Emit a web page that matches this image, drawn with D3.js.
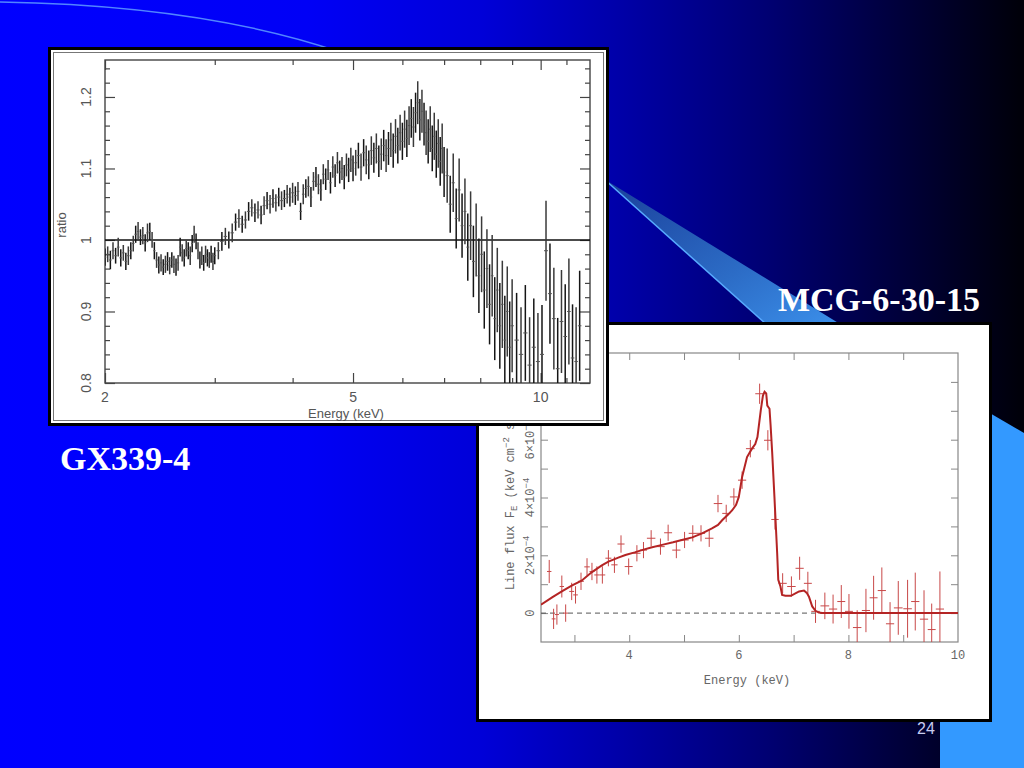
<!DOCTYPE html>
<html>
<head>
<meta charset="utf-8">
<script src="https://cdn.jsdelivr.net/npm/d3@7/dist/d3.min.js"></script>
<style>
  html, body { margin: 0; padding: 0; background: #000; }
  svg { display: block; }
</style>
</head>
<body>
<script>
// ---------------- DATA ----------------
// GX339-4 : ratio vs energy (keV)
const gxEnergy = [
  2.00,2.02,2.04,2.06,2.08,2.10,2.12,2.14,2.16,2.18,2.20,2.22,2.24,2.26,2.28,2.30,2.32,2.34,2.36,2.38,
  2.40,2.42,2.44,2.46,2.48,2.50,2.52,2.54,2.56,2.58,2.60,2.62,2.64,2.66,2.68,2.70,2.72,2.74,2.76,2.78,
  2.80,2.82,2.84,2.86,2.88,2.90,2.92,2.94,2.96,2.98,3.00,
  3.04,3.08,3.12,3.16,3.20,3.24,3.28,3.32,3.36,3.40,3.44,3.48,3.52,3.56,3.60,3.64,3.68,3.72,3.76,3.80,
  3.84,3.88,3.92,3.96,4.00,4.04,4.08,4.12,4.16,4.20,4.24,4.28,4.32,4.36,4.40,4.44,4.48,4.52,4.56,4.60,
  4.64,4.68,4.72,4.76,4.80,4.84,4.88,4.92,4.96,5.00,
  5.05,5.10,5.15,5.20,5.25,5.30,5.35,5.40,5.45,5.50,5.55,5.60,5.65,5.70,5.75,5.80,5.85,5.90,5.95,6.00,
  6.05,6.10,6.15,6.20,6.25,6.30,6.35,6.40,6.45,6.50,6.55,6.60,6.65,6.70,6.75,6.80,6.85,6.90,6.95,7.00,
  7.08,7.16,7.24,7.32,7.40,7.48,7.56,7.64,7.72,7.80,7.88,7.96,8.04,8.12,8.20,8.28,8.36,8.44,8.52,8.60,
  8.68,8.76,8.84,8.92,9.00,
  9.15,9.30,9.45,9.60,9.75,9.90,10.05,10.20,10.35,10.50,10.65,10.80,10.95,11.10,11.25,11.40,11.55
];
const gxRatio = [
  0.976,0.980,0.972,0.985,0.978,0.990,0.975,0.982,0.970,0.978,0.985,0.995,1.008,1.012,1.004,1.006,0.996,1.010,1.012,1.000,
  0.985,0.972,0.965,0.968,0.962,0.966,0.970,0.964,0.972,0.966,0.962,0.968,0.990,0.982,0.975,0.988,0.985,0.978,0.995,1.008,
  0.998,0.985,0.972,0.978,0.968,0.980,0.975,0.972,0.980,0.970,0.978,
  0.985,0.998,1.005,1.000,1.010,1.025,1.030,1.022,1.028,1.040,1.045,1.038,1.042,1.035,1.048,1.055,1.050,1.058,1.052,1.060,
  1.055,1.058,1.064,1.060,1.066,1.062,1.068,1.040,1.064,1.072,1.075,1.060,1.082,1.088,1.078,1.070,1.092,1.085,1.098,1.080,
  1.102,1.090,1.108,1.095,1.100,1.088,1.105,1.098,1.112,1.100,
  1.108,1.118,1.102,1.122,1.112,1.105,1.125,1.115,1.128,1.110,1.120,1.132,1.118,1.128,1.140,1.125,1.145,1.132,1.150,1.138,
  1.155,1.142,1.160,1.170,1.158,1.178,1.192,1.168,1.180,1.162,1.150,1.138,1.155,1.128,1.145,1.120,1.135,1.110,1.128,1.095,
  1.090,1.050,1.080,1.030,1.070,1.020,1.040,0.990,1.020,0.970,1.000,0.950,0.980,0.930,0.960,0.910,0.950,0.890,0.930,0.880,
  0.910,0.860,0.900,0.850,0.880,
  0.860,0.840,0.870,0.825,0.850,0.830,0.840,0.985,0.925,0.890,0.820,0.886,0.865,0.900,0.835,0.830,0.880
];
const gxError = [
  0.012,0.011,0.013,0.012,0.011,0.013,0.012,0.011,0.012,0.013,0.012,0.011,0.012,0.013,0.011,0.012,0.012,0.013,0.012,0.011,
  0.012,0.011,0.012,0.012,0.011,0.012,0.013,0.012,0.011,0.012,0.012,0.011,0.013,0.012,0.012,0.011,0.012,0.013,0.012,0.012,
  0.011,0.012,0.012,0.013,0.011,0.012,0.012,0.011,0.012,0.012,0.012,
  0.012,0.013,0.012,0.012,0.013,0.012,0.013,0.012,0.012,0.013,0.012,0.013,0.012,0.013,0.013,0.012,0.013,0.013,0.012,0.013,
  0.013,0.012,0.013,0.013,0.014,0.013,0.013,0.012,0.014,0.013,0.014,0.014,0.013,0.014,0.014,0.015,0.014,0.015,0.014,0.015,
  0.015,0.016,0.015,0.016,0.016,0.017,0.016,0.017,0.017,0.018,
  0.018,0.018,0.019,0.019,0.020,0.020,0.020,0.021,0.021,0.022,0.022,0.022,0.023,0.023,0.024,0.024,0.024,0.025,0.025,0.026,
  0.026,0.026,0.027,0.027,0.028,0.028,0.030,0.029,0.030,0.030,0.031,0.031,0.032,0.032,0.033,0.033,0.034,0.034,0.035,0.035,
  0.038,0.040,0.041,0.042,0.044,0.045,0.046,0.047,0.048,0.050,0.051,0.052,0.053,0.054,0.055,0.056,0.057,0.058,0.059,0.060,
  0.061,0.062,0.063,0.064,0.065,
  0.066,0.066,0.067,0.067,0.068,0.068,0.069,0.070,0.070,0.071,0.071,0.072,0.073,0.074,0.075,0.076,0.077
];
const gxXMajor = [2, 5, 10];
const gxXMinor = [3, 4, 6, 7, 8, 9, 11];
const gxYMajor = [0.8, 0.9, 1.0, 1.1, 1.2];
const gxYMinor = [0.82,0.84,0.86,0.88,0.92,0.94,0.96,0.98,1.02,1.04,1.06,1.08,1.12,1.14,1.16,1.18,1.22,1.24];
const gxYLabels = ["0.8", "0.9", "1", "1.1", "1.2"];

// MCG-6-30-15 : line flux (units of 1e-4 keV cm^-2 s^-1) vs energy (keV)
const mcgEnergy = [2.54,2.62,2.68,2.77,2.84,2.95,3.02,3.12,3.23,3.32,3.41,3.51,3.62,3.73,3.85,3.99,4.14,4.26,4.40,4.57,
  4.71,4.86,5.01,5.16,5.31,5.46,5.62,5.77,5.91,6.06,6.21,6.38,6.53,6.66,6.80,6.96,7.11,7.26,7.40,7.57,
  7.72,7.87,8.01,8.16,8.32,8.46,8.61,8.76,8.91,9.08,9.22,9.38,9.52,9.67];
const mcgFlux = [1.44,-0.20,-0.05,0.92,0.00,0.75,0.63,1.10,1.60,1.44,1.32,1.32,1.90,1.67,2.39,1.61,2.07,2.18,2.59,2.30,
  2.78,2.18,2.53,2.76,2.76,2.59,3.79,3.45,4.02,4.60,5.69,7.59,5.98,3.24,1.03,0.92,1.55,1.03,0.06,0.25,
  0.14,0.40,0.06,-0.50,0.09,0.53,0.78,-0.37,0.18,0.15,0.40,-0.21,-0.57,0.14];
const mcgError = [0.40,0.35,0.35,0.38,0.30,0.30,0.30,0.30,0.30,0.30,0.30,0.30,0.28,0.28,0.30,0.28,0.28,0.28,0.28,0.28,
  0.28,0.28,0.28,0.28,0.28,0.30,0.30,0.30,0.30,0.30,0.30,0.35,0.35,0.35,0.35,0.35,0.40,0.40,0.40,0.46,
  0.50,0.57,0.60,0.60,0.75,0.76,0.80,0.75,0.93,1.00,1.00,1.00,0.90,1.30];
const modelEnergy = [2.39,2.60,2.77,2.95,3.13,3.32,3.50,3.62,3.80,3.93,4.10,4.23,4.40,4.60,4.80,4.96,5.15,5.33,5.51,5.62,
  5.70,5.80,5.88,5.95,6.00,6.06,6.15,6.24,6.30,6.34,6.40,6.44,6.47,6.50,6.52,6.56,6.58,6.61,6.65,6.70,
  6.72,6.76,6.79,6.85,6.95,7.05,7.10,7.19,7.24,7.28,7.34,7.40,7.46,7.52,10.0];
const modelFlux = [0.29,0.55,0.75,0.95,1.12,1.42,1.65,1.78,1.92,2.01,2.10,2.18,2.27,2.36,2.45,2.53,2.62,2.76,2.93,3.05,
  3.22,3.40,3.56,3.75,4.02,4.71,5.40,5.69,5.85,6.09,7.01,7.53,7.66,7.60,7.18,7.07,6.50,5.52,4.02,2.07,
  1.15,0.92,0.63,0.60,0.60,0.70,0.75,0.78,0.70,0.57,0.23,0.08,0.02,0.00,0.00];
const mcgXTicks = [3, 4, 5, 6, 7, 8, 9];
const mcgXLabels = [4, 6, 8, 10];
const mcgYTicks = [0, 1, 2, 3, 4, 5, 6, 7, 8];
const mcgYLabels = [0, 2, 4, 6, 8];

// ---------------- DRAW ----------------
const W = 1024, H = 768;
const svg = d3.select("body").append("svg").attr("width", W).attr("height", H);
const defs = svg.append("defs");

const bg = defs.append("linearGradient").attr("id", "bg")
  .attr("x1", "0").attr("x2", "1").attr("y1", "0").attr("y2", "0");
[[0, "#0000ff"], [0.3, "#0000f6"], [0.47, "#0000d8"], [0.6, "#0000aa"], [0.75, "#000072"], [0.88, "#00003a"], [1, "#000008"]]
  .forEach(s => bg.append("stop").attr("offset", s[0]).attr("stop-color", s[1]));
const wedge = defs.append("linearGradient").attr("id", "wedge")
  .attr("x1", "0").attr("x2", "1").attr("y1", "0").attr("y2", "1");
[[0, "#1a3f9a"], [0.6, "#2c6cc6"], [1, "#3b8fea"]]
  .forEach(s => wedge.append("stop").attr("offset", s[0]).attr("stop-color", s[1]));

svg.append("rect").attr("width", W).attr("height", H).attr("fill", "url(#bg)");

// decorative shapes
svg.append("path").attr("d", "M0,2 C120,4 240,18 340,52")
  .attr("fill", "none").attr("stroke", "#5f9cff").attr("stroke-width", 1.5).attr("opacity", 0.85);
svg.append("path").attr("d", "M604,179 L840,324 L766,324 Z").attr("fill", "url(#wedge)");
svg.append("path").attr("d", "M604,179 L766,324").attr("stroke", "#58aaff").attr("stroke-width", 1.5);
svg.append("path").attr("d", "M940,384 L1024,433 L1024,768 L940,768 Z").attr("fill", "#3399ff");

// slide texts
svg.append("text").attr("x", 980).attr("y", 311).attr("text-anchor", "end")
  .attr("font-family", "Liberation Serif, Times New Roman, serif").attr("font-weight", "bold")
  .attr("font-size", 34).attr("fill", "#ffffff").text("MCG-6-30-15");
svg.append("text").attr("x", 60).attr("y", 470)
  .attr("font-family", "Liberation Serif, Times New Roman, serif").attr("font-weight", "bold")
  .attr("font-size", 34).attr("fill", "#ffffff").text("GX339-4");
svg.append("text").attr("x", 917).attr("y", 734)
  .attr("font-family", "Liberation Sans, Arial, sans-serif")
  .attr("font-size", 16).attr("fill", "#c8ccf0").text("24");

// ======== MCG-6-30-15 chart (drawn first, under the other) ========
const R = svg.append("g");
R.append("rect").attr("x", 477.5).attr("y", 323.5).attr("width", 513).attr("height", 397)
  .attr("fill", "#ffffff").attr("stroke", "#000").attr("stroke-width", 3);
const xR = d3.scaleLinear().domain([2.39, 10]).range([541, 958]);
const yR = d3.scaleLinear().domain([-1, 9]).range([642, 353]);
defs.append("clipPath").attr("id", "clipR").append("rect")
  .attr("x", 541).attr("y", 353).attr("width", 417).attr("height", 289);

const tickR = 7;
function styleAxis(g, col, w) {
  g.select(".domain").remove();
  g.selectAll("line").attr("stroke", col).attr("stroke-width", w);
  g.selectAll("text").remove();
}
R.append("g").attr("transform", "translate(0,642)")
  .call(d3.axisBottom(xR).tickValues(mcgXTicks).tickSize(-tickR)).call(g => styleAxis(g, "#888", 1));
R.append("g").attr("transform", "translate(0,353)")
  .call(d3.axisTop(xR).tickValues(mcgXTicks).tickSize(-tickR)).call(g => styleAxis(g, "#888", 1));
R.append("g").attr("transform", "translate(541,0)")
  .call(d3.axisLeft(yR).tickValues(mcgYTicks).tickSize(-tickR)).call(g => styleAxis(g, "#888", 1));
R.append("g").attr("transform", "translate(958,0)")
  .call(d3.axisRight(yR).tickValues(mcgYTicks).tickSize(-tickR)).call(g => styleAxis(g, "#888", 1));
R.append("rect").attr("x", 541).attr("y", 353).attr("width", 417).attr("height", 289)
  .attr("fill", "none").attr("stroke", "#888").attr("stroke-width", 1.2);

const fontR = "Liberation Mono, DejaVu Sans Mono, monospace";
R.selectAll("text.xl").data(mcgXLabels).enter().append("text")
  .attr("x", d => xR(d)).attr("y", 659).attr("text-anchor", "middle")
  .attr("font-family", fontR).attr("font-size", 12).attr("fill", "#666").text(d => d);
R.append("text").attr("x", xR(6.15)).attr("y", 684).attr("text-anchor", "middle")
  .attr("font-family", fontR).attr("font-size", 12).attr("fill", "#666").text("Energy (keV)");

R.selectAll("text.yl").data(mcgYLabels).enter().append("text")
  .attr("transform", d => `translate(534,${yR(d)}) rotate(-90)`)
  .attr("text-anchor", "middle")
  .attr("font-family", fontR).attr("font-size", 12).attr("fill", "#666")
  .each(function (d) {
    const t = d3.select(this);
    if (d === 0) { t.text("0"); return; }
    t.append("tspan").text(d + "\u00d710");
    t.append("tspan").attr("dy", -5).attr("font-size", 9).text("\u22124");
  });
const yt = R.append("text").attr("transform", `translate(514,${yR(4)}) rotate(-90)`)
  .attr("text-anchor", "middle").attr("font-family", fontR).attr("font-size", 12).attr("fill", "#666");
yt.append("tspan").text("Line flux F");
yt.append("tspan").attr("dy", 3).attr("font-size", 9).text("E");
yt.append("tspan").attr("dy", -3).text(" (keV cm");
yt.append("tspan").attr("dy", -5).attr("font-size", 9).text("\u22122");
yt.append("tspan").attr("dy", 5).text(" s");
yt.append("tspan").attr("dy", -5).attr("font-size", 9).text("\u22121");
yt.append("tspan").attr("dy", 5).text(")");

const RD = R.append("g").attr("clip-path", "url(#clipR)");
RD.append("line").attr("x1", xR(2.39)).attr("x2", xR(10)).attr("y1", yR(0)).attr("y2", yR(0))
  .attr("stroke", "#555").attr("stroke-width", 1).attr("stroke-dasharray", "5,4");
RD.append("line").attr("x1", xR(7.5)).attr("x2", xR(10)).attr("y1", yR(0)).attr("y2", yR(0))
  .attr("stroke", "#c03a3a").attr("stroke-width", 1.2);
const mcg = mcgEnergy.map((e, i) => ({ e, f: mcgFlux[i], err: mcgError[i], i }));
function halfWidthR(i) {
  const prev = i > 0 ? mcgEnergy[i - 1] : null, next = i < mcgEnergy.length - 1 ? mcgEnergy[i + 1] : null;
  const d = prev === null ? next - mcgEnergy[i] : next === null ? mcgEnergy[i] - prev : (next - prev) / 2;
  return d / 2;
}
const crosses = RD.selectAll("g.cross").data(mcg).enter().append("g");
crosses.append("line").attr("x1", d => xR(d.e)).attr("x2", d => xR(d.e))
  .attr("y1", d => yR(d.f - d.err)).attr("y2", d => yR(d.f + d.err))
  .attr("stroke", "#c84848").attr("stroke-width", 1);
crosses.append("line").attr("x1", d => xR(d.e - halfWidthR(d.i))).attr("x2", d => xR(d.e + halfWidthR(d.i)))
  .attr("y1", d => yR(d.f)).attr("y2", d => yR(d.f))
  .attr("stroke", "#c84848").attr("stroke-width", 1);
const model = modelEnergy.map((e, i) => [e, modelFlux[i]]);
RD.append("path").datum(model)
  .attr("d", d3.line().x(d => xR(d[0])).y(d => yR(d[1])))
  .attr("fill", "none").attr("stroke", "#b42424").attr("stroke-width", 2);

// ======== GX339-4 chart (on top) ========
const L = svg.append("g");
L.append("rect").attr("x", 49.5).attr("y", 48.5).attr("width", 558).attr("height", 376)
  .attr("fill", "#ffffff").attr("stroke", "#000").attr("stroke-width", 3);
L.append("rect").attr("x", 53.5).attr("y", 52.5).attr("width", 550).attr("height", 368)
  .attr("fill", "none").attr("stroke", "#777").attr("stroke-width", 1);

const xL = d3.scaleLog().domain([2, 12]).range([105, 590]);
const yL = d3.scaleLinear().domain([0.8, 1.2517]).range([383, 60]);
defs.append("clipPath").attr("id", "clipL").append("rect")
  .attr("x", 105).attr("y", 60).attr("width", 485).attr("height", 323);

const axCol = "#444";
function addAxes(vals, size) {
  L.append("g").attr("transform", "translate(0,383)")
    .call(d3.axisBottom(xL).tickValues(vals.x).tickSize(-size)).call(g => styleAxis(g, axCol, 1.2));
  L.append("g").attr("transform", "translate(0,60)")
    .call(d3.axisTop(xL).tickValues(vals.x).tickSize(-size)).call(g => styleAxis(g, axCol, 1.2));
  L.append("g").attr("transform", "translate(105,0)")
    .call(d3.axisLeft(yL).tickValues(vals.y).tickSize(-size)).call(g => styleAxis(g, axCol, 1.2));
  L.append("g").attr("transform", "translate(590,0)")
    .call(d3.axisRight(yL).tickValues(vals.y).tickSize(-size)).call(g => styleAxis(g, axCol, 1.2));
}
addAxes({ x: gxXMajor, y: gxYMajor }, 10);
addAxes({ x: gxXMinor, y: gxYMinor }, 5);
L.append("rect").attr("x", 105).attr("y", 60).attr("width", 485).attr("height", 323)
  .attr("fill", "none").attr("stroke", axCol).attr("stroke-width", 1.4);

const fontL = "Liberation Sans, Arial, sans-serif";
L.selectAll("text.xl").data(gxXMajor).enter().append("text")
  .attr("x", d => xL(d)).attr("y", 402).attr("text-anchor", "middle")
  .attr("font-family", fontL).attr("font-size", 14).attr("fill", "#555").text(d => d);
L.append("text").attr("x", 346).attr("y", 418).attr("text-anchor", "middle")
  .attr("font-family", fontL).attr("font-size", 13).attr("fill", "#555").text("Energy (keV)");
L.selectAll("text.yl").data(gxYMajor).enter().append("text")
  .attr("transform", d => `translate(91,${yL(d)}) rotate(-90)`).attr("text-anchor", "middle")
  .attr("font-family", fontL).attr("font-size", 14).attr("fill", "#555")
  .text((d, i) => gxYLabels[i]);
L.append("text").attr("transform", "translate(66,225) rotate(-90)").attr("text-anchor", "middle")
  .attr("font-family", fontL).attr("font-size", 13).attr("fill", "#555").text("ratio");

const LD = L.append("g").attr("clip-path", "url(#clipL)");
LD.append("line").attr("x1", 105).attr("x2", 590).attr("y1", yL(1)).attr("y2", yL(1))
  .attr("stroke", "#111").attr("stroke-width", 1.5);
const gx = gxEnergy.map((e, i) => ({ e, r: gxRatio[i], err: gxError[i], i }));
function halfPixL(i) {
  const px = xL(gxEnergy[i]);
  const pp = i > 0 ? xL(gxEnergy[i - 1]) : null, pn = i < gxEnergy.length - 1 ? xL(gxEnergy[i + 1]) : null;
  const d = pp === null ? pn - px : pn === null ? px - pp : (pn - pp) / 2;
  return d / 2;
}
const bars = LD.selectAll("g.bar").data(gx).enter().append("g");
bars.append("line").attr("x1", d => xL(d.e)).attr("x2", d => xL(d.e))
  .attr("y1", d => yL(d.r - d.err)).attr("y2", d => yL(d.r + d.err))
  .attr("stroke", d => d.i % 2 ? "#3a3a3a" : "#151515").attr("stroke-width", 1.5);
bars.append("line").attr("x1", d => xL(d.e) - halfPixL(d.i)).attr("x2", d => xL(d.e) + halfPixL(d.i))
  .attr("y1", d => yL(d.r)).attr("y2", d => yL(d.r))
  .attr("stroke", "#555").attr("stroke-width", 1);
</script>
</body>
</html>
